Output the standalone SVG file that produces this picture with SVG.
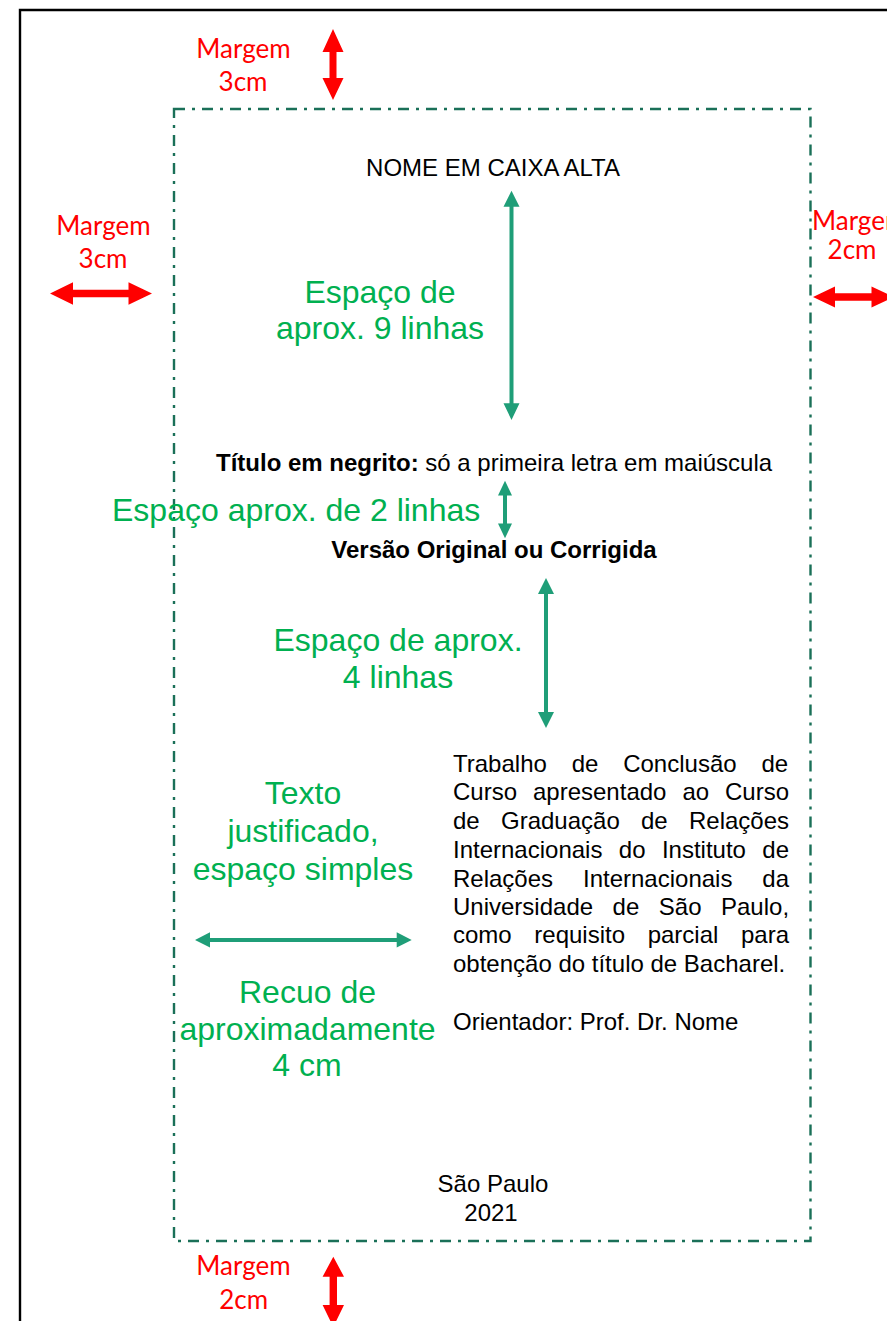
<svg xmlns="http://www.w3.org/2000/svg" width="887" height="1321" viewBox="0 0 887 1321">
<style>
.red{font-family:Lato,"Liberation Sans",sans-serif;font-size:26px;fill:#ff0000;text-anchor:middle}
.grn{font-family:"Liberation Sans",Arial,sans-serif;font-size:32px;fill:#00b050}
.mid{text-anchor:middle}
.blk{font-family:"Liberation Sans",Arial,sans-serif;font-size:24px;fill:#000}
.b{font-weight:bold}
.rarr{fill:#ff0000}
.garr{fill:#1f9e78}
</style>
<rect width="887" height="1321" fill="#fff"/>
<path d="M20,1321 V10 H887" fill="none" stroke="#000" stroke-width="2.4"/>
<rect id="margin-box" x="174" y="109" width="636.5" height="1132" fill="none" stroke="#1a7058" stroke-width="2.4" stroke-dasharray="11 7 3 7"/>

<g id="connectors">
  <polygon class="rarr" points="333,29 343.5,52 336.5,52 336.5,78 343.5,78 333,100 322.5,78 329.5,78 329.5,52 322.5,52"/>
  <polygon class="rarr" points="50,293.5 73,282.2 73,289.8 128.5,289.8 128.5,282.2 152,293.5 128.5,304.8 128.5,297.2 73,297.2 73,304.8"/>
  <polygon class="rarr" points="813,297 835,286.5 835,293.3 871.5,293.3 871.5,286.5 894,297 871.5,307.5 871.5,300.7 835,300.7 835,307.5"/>
  <polygon class="rarr" points="333.3,1256.7 344,1276.7 337,1276.7 337,1305 344,1305 333.3,1327 322.6,1305 329.6,1305 329.6,1276.7 322.6,1276.7"/>
  <polygon class="garr" points="511.5,190.7 519.5,206.7 513.5,206.7 513.5,403.3 519.5,403.3 511.5,420 503.5,403.3 509.5,403.3 509.5,206.7 503.5,206.7"/>
  <polygon class="garr" points="505,480.7 512,495.5 507,495.5 507,523.5 512,523.5 505,538.3 498,523.5 503,523.5 503,495.5 498,495.5"/>
  <polygon class="garr" points="546,578 554,594 548,594 548,712 554,712 546,728 538,712 544,712 544,594 538,594"/>
  <polygon class="garr" points="195,940 210,932.3 210,938 396.7,938 396.7,932.3 411.7,940 396.7,947.5 396.7,942 210,942 210,947.5"/>
</g>

<g id="margin-top"><text class="red" x="243.5" y="57.5">Margem</text><text class="red" x="243" y="90.5">3cm</text></g>
<g id="margin-left"><text class="red" x="103.5" y="235">Margem</text><text class="red" x="103" y="267.5">3cm</text></g>
<g id="margin-right"><text class="red" x="812" y="229.5" style="text-anchor:start">Margem</text><text class="red" x="852" y="258.5">2cm</text></g>
<g id="margin-bottom"><text class="red" x="243.5" y="1275">Margem</text><text class="red" x="243.7" y="1309.3">2cm</text></g>

<g id="nome"><text class="blk mid" x="493" y="176">NOME EM CAIXA ALTA</text></g>
<g id="espaco-9"><text class="grn mid" x="380" y="303">Espaço de</text><text class="grn mid" x="380" y="339">aprox. 9 linhas</text></g>
<g id="titulo"><text class="blk" x="216" y="471"><tspan class="b">Título em negrito:</tspan> só a primeira letra em maiúscula</text></g>
<g id="espaco-2"><text class="grn" x="112" y="521">Espaço aprox. de 2 linhas</text></g>
<g id="versao"><text class="blk b mid" x="494" y="558">Versão Original ou Corrigida</text></g>
<g id="espaco-4"><text class="grn mid" x="398" y="651">Espaço de aprox.</text><text class="grn mid" x="398" y="688">4 linhas</text></g>
<g id="texto-justificado"><text class="grn mid" x="303" y="804">Texto</text><text class="grn mid" x="303" y="842">justificado,</text><text class="grn mid" x="303" y="880">espaço simples</text></g>
<g id="recuo"><text class="grn mid" x="307.5" y="1003">Recuo de</text><text class="grn mid" x="307.5" y="1039.5">aproximadamente</text><text class="grn mid" x="307" y="1076">4 cm</text></g>

<g id="paragrafo">
  <text class="blk" x="453" y="771.7" word-spacing="18.16">Trabalho de Conclusão de</text>
  <text class="blk" x="453" y="800" word-spacing="9.29">Curso apresentado ao Curso</text>
  <text class="blk" x="453" y="829.3" word-spacing="14.62">de Graduação de Relações</text>
  <text class="blk" x="453" y="858.3" word-spacing="9.72">Internacionais do Instituto de</text>
  <text class="blk" x="453" y="886.7" word-spacing="23.27">Relações Internacionais da</text>
  <text class="blk" x="453" y="915" word-spacing="12.84">Universidade de São Paulo,</text>
  <text class="blk" x="453" y="943.3" word-spacing="15.97">como requisito parcial para</text>
  <text class="blk" x="453" y="972.3">obtenção do título de Bacharel.</text>
  <text class="blk" x="453" y="1030">Orientador: Prof. Dr. Nome</text>
</g>
<g id="local"><text class="blk mid" x="493" y="1191.7">São Paulo</text><text class="blk mid" x="491" y="1221">2021</text></g>
</svg>
